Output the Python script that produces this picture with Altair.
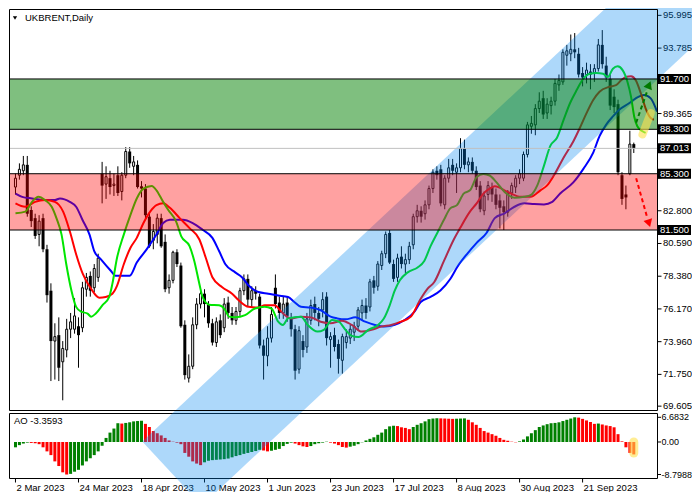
import altair as alt
import pandas as pd

# ---------------- data ----------------
date_labels = ["2 Mar 2023", "24 Mar 2023", "18 Apr 2023", "10 May 2023", "1 Jun 2023",
               "23 Jun 2023", "17 Jul 2023", "8 Aug 2023", "30 Aug 2023", "21 Sep 2023"]
label_step = 16

opens = [84.4, 85.2, 85.5, 85.9, 82.85, 82.3, 81.2, 82.3, 80.2, 77.4,
         74.0, 74.4, 72.6, 73.4, 74.8, 74.8, 75.0, 74.9, 77.5, 78.4,
         77.6, 78.3, 85.3, 84.6, 85.0, 84.5, 85.2, 84.1, 85.2, 86.8,
         85.8, 85.9, 84.45, 84.3, 82.4, 80.8, 81.2, 82.3, 80.7, 77.6,
         78.1, 80.0, 79.1, 75.1, 71.5, 72.3, 75.1, 76.5, 77.2, 76.5,
         75.2, 73.9, 75.4, 74.9, 76.6, 75.9, 75.4, 76.0, 77.4, 78.2,
         76.8, 77.4, 77.0, 73.7, 73.0, 74.2, 77.6, 76.6, 75.9, 76.6,
         75.5, 74.8, 72.1, 74.0, 73.6, 75.4, 76.5, 75.9, 76.1, 77.0,
         74.1, 74.4, 73.8, 72.7, 73.9, 74.2, 74.6, 75.0, 75.9, 76.4,
         76.3, 78.1, 77.7, 79.1, 79.9, 81.3, 79.2, 78.3, 79.7, 79.2,
         79.5, 80.5, 82.4, 82.8, 82.6, 83.2, 84.3, 85.5, 85.6, 83.2,
         85.0, 85.9, 85.4, 85.7, 87.0, 85.9, 86.1, 85.5, 84.5, 82.8,
         83.9, 84.4, 83.9, 83.5, 83.1, 82.7, 84.0, 84.4, 85.0, 85.0,
         86.6, 88.5, 88.6, 89.7, 90.4, 89.4, 89.9, 90.2, 91.3, 91.5,
         93.3, 93.4, 93.7, 93.4, 92.1, 92.0, 92.2, 92.1, 92.4, 94.0,
         92.6, 91.7, 90.5, 90.0, 85.2, 83.9, 85.3, 87.3]
highs = [85.3, 86.0, 86.5, 86.5, 83.1, 82.6, 82.5, 82.6, 80.5, 77.9,
         75.2, 75.6, 74.0, 75.5, 75.9, 76.9, 75.6, 78.0, 78.6, 78.7,
         79.2, 79.9, 86.1, 85.8, 85.5, 85.3, 85.8, 85.4, 87.1, 87.1,
         86.5, 86.2, 84.8, 84.6, 82.7, 81.9, 82.6, 82.6, 81.2, 78.5,
         80.1, 80.2, 79.3, 75.4, 73.1, 75.6, 76.9, 77.5, 77.5, 76.7,
         75.5, 75.6, 75.8, 76.9, 77.0, 76.3, 76.3, 77.6, 78.5, 78.5,
         77.7, 77.7, 77.2, 74.1, 75.0, 76.3, 78.5, 77.0, 77.0, 77.0,
         75.9, 75.1, 75.0, 74.4, 75.9, 76.8, 77.0, 76.3, 77.3, 77.3,
         74.6, 74.9, 74.1, 74.5, 74.8, 75.1, 75.3, 76.3, 76.8, 76.9,
         78.2, 78.4, 79.4, 80.1, 81.4, 81.5, 79.5, 79.9, 80.4, 79.9,
         80.7, 82.6, 83.2, 83.1, 83.5, 84.5, 85.6, 85.8, 85.9, 85.2,
         86.3, 86.3, 86.0, 87.7, 87.6, 86.4, 86.4, 85.8, 84.8, 84.1,
         84.8, 84.7, 84.3, 83.9, 83.5, 84.2, 84.7, 85.2, 85.6, 86.8,
         88.8, 89.2, 90.0, 90.8, 90.9, 90.4, 90.5, 91.7, 92.0, 93.7,
         94.0, 94.7, 94.8, 93.8, 92.5, 92.8, 92.7, 92.7, 94.4, 95.0,
         93.2, 92.0, 91.0, 90.3, 85.4, 84.5, 88.2, 87.4]
lows = [83.9, 84.9, 85.2, 82.4, 81.7, 80.9, 80.4, 80.0, 76.6, 71.3,
        71.4, 71.3, 70.0, 72.9, 74.2, 74.5, 72.2, 74.6, 77.0, 77.0,
        77.3, 78.0, 83.3, 83.6, 83.9, 83.8, 83.8, 83.5, 85.0, 85.7,
        85.2, 84.3, 83.7, 82.3, 80.3, 80.2, 80.6, 80.3, 77.3, 77.2,
        77.9, 79.0, 74.9, 71.4, 71.2, 72.1, 74.8, 76.2, 75.6, 74.9,
        73.7, 73.6, 74.2, 74.6, 75.5, 75.1, 75.1, 75.7, 77.1, 76.3,
        76.3, 76.8, 73.5, 71.4, 72.3, 73.9, 76.2, 75.5, 75.5, 75.3,
        74.3, 71.4, 71.8, 72.9, 73.2, 75.1, 75.4, 75.0, 75.6, 73.7,
        72.2, 73.3, 71.8, 71.8, 73.5, 73.8, 74.0, 74.7, 75.4, 75.5,
        76.0, 77.2, 77.4, 78.8, 79.6, 79.2, 78.0, 78.0, 78.9, 78.6,
        79.2, 80.2, 82.0, 82.0, 82.2, 82.9, 84.0, 84.9, 83.1, 82.9,
        84.7, 85.2, 84.0, 85.4, 85.6, 85.4, 85.3, 84.2, 82.7, 82.5,
        83.5, 83.4, 82.9, 81.6, 81.5, 82.4, 83.6, 84.0, 84.6, 84.8,
        86.4, 88.0, 87.9, 89.4, 89.0, 89.0, 89.3, 89.9, 90.9, 91.3,
        92.6, 92.9, 93.1, 91.8, 91.2, 91.4, 91.0, 91.5, 92.2, 92.4,
        91.5, 89.6, 89.4, 85.2, 83.2, 82.9, 85.2, 86.7]
closes = [85.0, 85.6, 85.9, 82.6, 82.1, 81.1, 82.1, 80.2, 77.1, 74.0,
          74.3, 72.2, 73.5, 74.8, 75.3, 75.7, 74.4, 77.6, 78.3, 77.4,
          78.9, 79.6, 84.5, 85.1, 84.4, 84.6, 84.0, 85.2, 86.8, 86.0,
          86.1, 84.4, 84.3, 82.5, 80.4, 81.4, 82.3, 80.4, 77.5, 78.1,
          80.0, 79.2, 75.0, 71.7, 72.3, 75.1, 76.5, 77.2, 76.5, 75.2,
          73.9, 75.3, 74.4, 76.5, 75.9, 75.4, 76.0, 77.4, 78.2, 76.8,
          77.4, 77.2, 73.7, 73.0, 74.2, 75.8, 76.5, 75.9, 76.5, 75.7,
          74.8, 72.0, 74.7, 73.4, 75.5, 76.4, 75.9, 75.5, 76.8, 74.2,
          74.3, 73.6, 72.8, 74.3, 74.3, 74.8, 75.0, 76.1, 76.4, 75.9,
          78.0, 77.6, 79.2, 79.9, 81.2, 79.3, 78.2, 79.6, 79.2, 79.5,
          80.4, 82.4, 82.8, 82.4, 83.2, 84.3, 85.4, 85.2, 83.3, 85.0,
          85.7, 85.5, 85.7, 87.0, 85.9, 86.1, 85.5, 84.4, 82.9, 83.8,
          84.5, 83.9, 83.2, 83.0, 82.7, 84.0, 84.5, 85.0, 85.3, 86.6,
          88.6, 88.7, 89.7, 90.2, 89.3, 90.0, 90.2, 91.4, 91.6, 93.5,
          93.6, 93.7, 93.5, 92.0, 91.8, 92.3, 92.0, 92.4, 94.0, 92.7,
          91.8, 89.9, 89.8, 85.4, 83.6, 83.7, 87.3, 87.01]

# Alligator lines (bar position, price)
lips_x = [0, 2.5, 4.2, 5.8, 7.5, 9.2, 10.4, 11.7, 12.9, 14.2,
          15.4, 16.7, 18.3, 19.2, 20.4, 22.1, 23.8, 24.6, 25.8, 27.5,
          29.2, 30.8, 32.5, 34.6, 35.8, 37.5, 38.8, 40.8, 42.1, 44.2,
          45.4, 46.7, 47.5, 49.2, 51.7, 53.3, 54.2, 55.8, 58.3, 60.8,
          63.3, 65.0, 66.7, 67.9, 69.2, 72.5, 74.2, 76.7, 78.3, 80.4,
          82.1, 83.8, 85.4, 87.1, 89.6, 92.1, 93.5, 95.0, 96.3, 97.6,
          99.6, 102.1, 103.8, 105.4, 107.1, 108.8, 110.4, 112.1, 113.8, 115.4,
          117.1, 118.8, 120.4, 122.1, 124.2, 126.7, 129.2, 130.8, 132.5, 134.2,
          135.8, 137.5, 139.2, 140.8, 142.5, 144.2, 145.8, 147.5, 149.2, 150.4,
          151.7, 152.9, 154.2, 155.4, 156.3, 157.1, 157.9, 159.2, 160.0]
lips_y = [82.63, 82.74, 83.40, 83.74, 83.52, 83.07, 82.30, 81.19, 79.19, 77.42,
          76.31, 75.98, 75.86, 75.65, 75.86, 76.42, 76.98, 77.86, 79.64, 81.19,
          82.52, 83.63, 84.29, 84.47, 84.18, 83.40, 82.85, 82.07, 81.07, 80.41,
          79.41, 77.86, 76.98, 76.46, 76.42, 76.08, 75.65, 75.60, 75.75, 76.20,
          76.31, 76.20, 75.31, 75.09, 75.53, 75.65, 75.09, 74.64, 74.76, 75.42,
          75.31, 74.76, 74.35, 74.27, 74.76, 75.09, 75.50, 76.40, 77.40, 78.10,
          78.64, 78.97, 79.41, 80.41, 81.30, 82.19, 82.96, 83.18, 83.96, 84.18,
          85.07, 85.29, 85.18, 84.73, 84.07, 83.67, 83.74, 83.85, 84.51, 85.85,
          87.18, 87.73, 88.95, 90.06, 90.95, 91.72, 92.05, 92.10, 92.05, 91.83,
          92.39, 92.55, 92.28, 91.50, 90.50, 89.17, 88.51, 88.17, 88.06]
teeth_x = [0, 2.5, 5.0, 7.5, 10.0, 12.1, 13.8, 15.4, 17.1, 19.2,
           21.3, 22.9, 24.6, 25.8, 27.5, 29.2, 30.8, 32.5, 34.2, 35.8,
           37.5, 39.2, 41.7, 44.2, 46.7, 48.3, 50.0, 52.5, 55.0, 56.7,
           59.2, 61.7, 63.3, 65.8, 67.5, 70.0, 72.5, 75.0, 77.5, 80.0,
           82.9, 85.4, 87.9, 90.4, 92.9, 95.4, 97.9, 100.4, 102.9, 104.6,
           106.3, 108.8, 111.3, 112.9, 115.4, 117.1, 118.8, 120.4, 121.7, 125.0,
           128.3, 130.8, 133.3, 135.0, 136.7, 139.2, 141.7, 143.3, 145.0, 146.7,
           148.3, 150.8, 152.5, 153.8, 155.0, 156.3, 157.5, 158.8, 160.0, 161.3,
           162.1]
teeth_y = [83.30, 83.07, 83.40, 83.52, 83.40, 82.74, 81.41, 79.86, 78.53, 77.53,
           76.93, 76.98, 77.20, 77.75, 79.19, 80.30, 80.97, 81.97, 82.74, 83.18,
           83.30, 83.00, 82.30, 81.63, 80.86, 79.64, 78.31, 77.64, 77.20, 76.75,
           76.31, 76.26, 76.42, 76.42, 75.98, 75.53, 75.65, 75.60, 75.30, 75.20,
           75.38, 75.09, 74.64, 74.76, 74.98, 75.09, 75.31, 75.65, 76.86, 77.53,
           77.97, 79.41, 80.86, 81.63, 82.74, 83.30, 83.96, 84.29, 84.45, 84.07,
           83.74, 83.74, 84.18, 84.51, 85.18, 86.40, 87.51, 88.39, 89.39, 90.28,
           90.84, 91.17, 91.28, 91.61, 91.83, 91.88, 91.61, 90.72, 89.72, 89.06,
           88.95]
jaw_x = [0, 1.7, 4.2, 7.5, 10.0, 11.3, 13.8, 15.4, 17.0, 18.8,
         20.0, 21.7, 24.2, 25.4, 29.0, 30.8, 33.3, 35.8, 37.5, 39.2,
         42.5, 45.0, 47.5, 50.0, 51.7, 53.3, 55.8, 57.5, 59.2, 61.7,
         64.2, 66.7, 69.2, 70.8, 72.5, 75.0, 77.5, 80.0, 81.7, 83.8,
         86.3, 88.8, 91.3, 93.8, 96.3, 98.8, 101.3, 102.9, 105.4, 107.9,
         110.4, 112.1, 114.6, 117.1, 119.6, 121.7, 124.2, 126.7, 129.2, 131.7,
         134.2, 136.3, 138.3, 141.7, 144.2, 146.7, 148.3, 150.0, 151.7, 153.3,
         155.8, 157.5, 159.6, 161.3, 162.9]
jaw_y = [83.96, 83.74, 83.63, 83.52, 83.52, 83.63, 83.40, 83.07, 82.19, 81.19,
         80.08, 79.52, 78.75, 78.41, 78.41, 79.30, 80.19, 81.19, 81.97, 82.19,
         82.19, 81.97, 81.52, 80.97, 80.08, 79.19, 78.64, 78.31, 77.75, 77.31,
         77.20, 77.08, 76.98, 76.64, 76.31, 76.26, 76.08, 75.65, 75.53, 75.47,
         75.60, 75.31, 75.09, 74.98, 75.09, 75.42, 75.98, 76.64, 76.98, 77.42,
         78.19, 78.97, 79.86, 80.63, 81.30, 82.30, 82.63, 83.07, 83.30, 83.25,
         83.23, 83.40, 83.96, 84.73, 85.63, 86.73, 87.84, 88.62, 89.17, 89.62,
         90.06, 90.39, 90.62, 90.39, 89.50]

ao_values = [-1.44, -0.85, -0.42, -0.17, -0.25, -0.34, -0.59, -1.44, -2.54, -3.55,
             -5.25, -6.51, -8.21, -8.80, -8.63, -8.04, -7.53, -6.35, -5.25, -4.40,
             -3.55, -2.54, -1.02, 1.10, 2.54, 3.64, 5.08, 4.99, 5.16, 5.33,
             5.58, 5.67, 5.75, 4.91, 4.06, 2.96, 2.37, 1.78, 1.10, 0.42,
             0.08, -0.17, -0.59, -2.96, -3.98, -5.25, -5.84, -6.26, -5.50, -5.08,
             -4.91, -4.82, -4.74, -4.65, -4.48, -4.15, -3.81, -3.55, -3.21, -2.96,
             -2.71, -2.45, -2.12, -2.28, -2.54, -2.37, -2.12, -1.86, -1.10, -0.51,
             -0.17, -0.42, -0.85, -1.18, -1.35, -1.10, -0.59, -0.34, -0.17, 0.08,
             -0.17, -0.42, -0.85, -1.35, -1.52, -1.27, -1.02, -0.59, -0.08, 0.42,
             0.85, 1.27, 1.95, 2.54, 3.47, 4.23, 4.40, 4.31, 3.98, 3.81,
             3.47, 4.06, 4.65, 5.08, 5.58, 6.18, 6.35, 6.43, 6.39, 6.35,
             6.30, 6.26, 6.30, 6.35, 6.39, 6.01, 5.33, 4.65, 3.81, 2.96,
             2.54, 2.12, 1.69, 1.10, 0.59, 0.34, 0.08, -0.08, 0.17, 0.68,
             1.52, 2.37, 3.21, 4.06, 4.48, 4.82, 5.08, 5.16, 5.33, 5.67,
             6.01, 6.35, 6.68, 6.60, 6.26, 5.84, 5.41, 4.91, 4.99, 4.74,
             4.48, 4.31, 3.98, 2.12, 0.17, -1.44, -2.96, -3.36]
ao_updown = "".join(["gggg", "rrrrrrrrrr", "ggggggggggggg", "r", "ggggg",
                     "rrrrrrrrrrrrrrr", "ggggggggggggggg", "rr", "gggggg", "rrrr",
                     "ggggg", "rrrrr", "gggggggggggg", "rrrr", "ggggggg", "rrrr",
                     "ggg", "rrrrrrrrrrrrr", "ggggggggggggggg", "rrrrr", "g", "rrrrrrrrr"])
ao_last = -3.3593

price_ticks = [95.995, 93.785, 91.575, 89.365, 87.155, 85.010, 82.800, 80.590,
               78.380, 76.170, 73.960, 71.750, 69.605]
covered_ticks = [91.575, 87.155, 85.010]   # hidden behind the level boxes
ao_ticks = [6.6832, 0.0, -8.7988]
ao_tick_labels = ["6.6832", "0.00", "-8.7988"]
level_lines = [91.700, 88.300, 85.300, 81.500]
box_levels = [91.700, 88.300, 87.013, 85.300, 81.500]
last_price = 87.013
zone_lo = [88.300, 81.500]
zone_hi = [91.700, 85.300]

channel_i = [32.2, 47.3, 190.0]
channel_upper = [67.22, 70.98, 106.46]
channel_lower = [67.22, 62.89, 98.38]

g_arrow_i, g_arrow_p = [157.6, 160.5], [88.75, 90.95]
g_head_i, g_head_p = [160.9], [91.3]
r_arrow_i, r_arrow_p = [157.6, 160.4], [85.0, 82.35]
r_head_i, r_head_p = [160.85], [81.95]
hl_i, hl_p = [159.2, 161.3], [87.95, 89.4]
ao_hl_i, ao_hl_v = [157.0, 157.0], [0.0, -3.0]

# ---------------- layout / styles ----------------
FONT = "Liberation Sans"
FS = 9.5
W, H = 648, 469
MAIN_H = 401
AO_TOP, AO_BOT = 404, 469
X_MIN, X_MAX = -0.375, 161.625
P_MIN, P_MAX = 69.345, 96.424
AO_MIN, AO_MAX = -9.746, 7.847

xs = alt.Scale(domain=[X_MIN, X_MAX], nice=False, zero=False)
ys = alt.Scale(domain=[P_MIN, P_MAX], range=[MAIN_H, 0], nice=False, zero=False)
ya = alt.Scale(domain=[AO_MIN, AO_MAX], range=[AO_BOT, AO_TOP], nice=False, zero=False)


def X(field="i"):
    return alt.X(f"{field}:Q", scale=xs, axis=None)


def YP(field):
    return alt.Y(f"{field}:Q", scale=ys, axis=None)


def YA(field):
    return alt.Y(f"{field}:Q", scale=ya, axis=None)


one = pd.DataFrame({"a": [0]})

# ---------------- AO panel (+ date axis) ----------------
ao_df = pd.DataFrame({"i": list(range(len(ao_values))), "v": ao_values,
                      "col": ["#008000" if c == "g" else "#ff0000" for c in ao_updown],
                      "z": [0.0] * len(ao_values)})
ao_bars = alt.Chart(ao_df).mark_bar(size=3).encode(
    x=X(), y=YA("v"), y2="z:Q", color=alt.Color("col:N", scale=None))
ao_hl = alt.Chart(pd.DataFrame({"i": ao_hl_i, "v": ao_hl_v})).mark_line(
    color="#ffe14d", opacity=0.6, strokeWidth=9, strokeCap="round").encode(x=X(), y=YA("v"))
ao_frame = alt.Chart(one).mark_rect(filled=False, color="black", strokeWidth=1).encode(
    x=alt.value(0.5), x2=alt.value(W + 0.5), y=alt.value(AO_TOP + 0.5), y2=alt.value(AO_BOT + 0.5))
ao_text = alt.Chart(pd.DataFrame({"t": [f"AO {ao_last}"]})).mark_text(
    align="left", baseline="middle", font=FONT, fontSize=FS, color="black").encode(
    x=alt.value(5), y=alt.value(411.5), text="t:N")

aot_df = pd.DataFrame({"v": ao_ticks, "t": ao_tick_labels})
ao_tick_marks = alt.Chart(aot_df).mark_rule(color="black", strokeWidth=1).encode(
    x=alt.value(W + 0.5), x2=alt.value(W + 4), y=YA("v"))
ao_tick_text = alt.Chart(aot_df).mark_text(
    align="left", baseline="middle", font=FONT, fontSize=9, color="black").encode(
    x=alt.value(W + 4.5), y=YA("v"), text="t:N")

xt_df = pd.DataFrame({"i": [k * label_step for k in range(len(date_labels))], "t": date_labels})
x_tick_marks = alt.Chart(xt_df).mark_rule(color="black", strokeWidth=1).encode(
    x=X(), y=alt.value(AO_BOT + 0.5), y2=alt.value(AO_BOT + 4.5))
x_tick_text = alt.Chart(xt_df).mark_text(
    align="left", baseline="top", font=FONT, fontSize=FS, color="black", dx=1).encode(
    x=X(), y=alt.value(AO_BOT + 5), text="t:N")

ao_group = alt.layer(ao_tick_marks, ao_tick_text, x_tick_marks, x_tick_text,
                     ao_bars, ao_hl, ao_frame, ao_text)

# ---------------- main panel ----------------
cdf = pd.DataFrame({"i": list(range(len(opens))), "o": opens, "h": highs, "l": lows, "c": closes})
bull = cdf[cdf.c >= cdf.o]
bear = cdf[cdf.c < cdf.o]

pt_df = pd.DataFrame({"p": price_ticks})
pt_vis = pt_df[~pt_df.p.isin(covered_ticks)]
p_tick_marks = alt.Chart(pt_df).mark_rule(color="black", strokeWidth=1).encode(
    x=alt.value(W + 0.5), x2=alt.value(W + 4.5), y=YP("p"))
p_tick_text = alt.Chart(pt_vis).mark_text(
    align="left", baseline="middle", font=FONT, fontSize=FS, color="black").encode(
    x=alt.value(W + 6), y=YP("p"), text=alt.Text("p:Q", format=".3f"))

wicks = alt.Chart(cdf).mark_rule(color="black", strokeWidth=1).encode(
    x=X(), y=YP("l"), y2="h:Q")
bull_b = alt.Chart(bull).mark_bar(size=2, fill="white", stroke="black", strokeWidth=1).encode(
    x=X(), y=YP("o"), y2="c:Q")
bear_b = alt.Chart(bear).mark_bar(size=3, color="black").encode(
    x=X(), y=YP("o"), y2="c:Q")


def ma(xv, yv, color):
    return alt.Chart(pd.DataFrame({"i": xv, "v": yv})).mark_line(
        color=color, strokeWidth=2, interpolate="monotone", clip=True).encode(x=X(), y=YP("v"))


jaw = ma(jaw_x, jaw_y, "#0000ff")
teeth = ma(teeth_x, teeth_y, "#ff0000")
lips = ma(lips_x, lips_y, "#00e600")

channel = alt.Chart(pd.DataFrame({"i": channel_i, "u": channel_upper, "lo": channel_lower})).mark_area(
    color="#0086f0", opacity=0.32).encode(x=X(), y=YP("u"), y2="lo:Q")

zones = alt.Chart(pd.DataFrame({"lo": zone_lo, "hi": zone_hi, "col": ["#008000", "#ff0000"],
                                "op": [0.5, 0.37]})).mark_rect().encode(
    x=alt.value(0), x2=alt.value(W), y=YP("lo"), y2="hi:Q",
    color=alt.Color("col:N", scale=None), opacity=alt.Opacity("op:Q", scale=None))
lvl = alt.Chart(pd.DataFrame({"p": level_lines})).mark_rule(color="black", strokeWidth=1).encode(
    x=alt.value(0), x2=alt.value(W), y=YP("p"))
pline = alt.Chart(pd.DataFrame({"p": [last_price]})).mark_rule(color="#c0c0c0", strokeWidth=1).encode(
    x=alt.value(0), x2=alt.value(W), y=YP("p"))

hl = alt.Chart(pd.DataFrame({"i": hl_i, "v": hl_p})).mark_line(
    color="#ffe14d", opacity=0.6, strokeWidth=8, strokeCap="round").encode(x=X(), y=YP("v"))
g_line = alt.Chart(pd.DataFrame({"i": g_arrow_i, "v": g_arrow_p})).mark_line(
    color="#007a00", strokeWidth=2, strokeDash=[4, 3]).encode(x=X(), y=YP("v"))
g_head = alt.Chart(pd.DataFrame({"i": g_head_i, "v": g_head_p})).mark_point(
    shape="triangle-up", filled=True, size=80, angle=22, color="#007a00", opacity=1).encode(x=X(), y=YP("v"))
r_line = alt.Chart(pd.DataFrame({"i": r_arrow_i, "v": r_arrow_p})).mark_line(
    color="#ff0000", strokeWidth=2, strokeDash=[4, 3]).encode(x=X(), y=YP("v"))
r_head = alt.Chart(pd.DataFrame({"i": r_head_i, "v": r_head_p})).mark_point(
    shape="triangle-up", filled=True, size=80, angle=163, color="#ff0000", opacity=1).encode(x=X(), y=YP("v"))

main_frame = alt.Chart(one).mark_rect(filled=False, color="black", strokeWidth=1).encode(
    x=alt.value(0.5), x2=alt.value(W + 0.5), y=alt.value(0.5), y2=alt.value(MAIN_H + 0.5))

bdf = pd.DataFrame({"p": box_levels})
boxes = alt.Chart(bdf).mark_rule(color="black", strokeWidth=10, strokeCap="butt").encode(
    x=alt.value(W + 1), x2=alt.value(W + 34), y=YP("p"))
box_txt = alt.Chart(bdf).mark_text(align="left", baseline="middle", font=FONT, fontSize=FS,
                                   color="white").encode(
    x=alt.value(W + 3), y=YP("p"), text=alt.Text("p:Q", format=".3f"))

tri = alt.Chart(one).mark_point(shape="triangle-down", filled=True, size=18, color="black",
                                opacity=1).encode(x=alt.value(6), y=alt.value(9))
title = alt.Chart(pd.DataFrame({"t": ["UKBRENT,Daily"]})).mark_text(
    align="left", baseline="middle", font=FONT, fontSize=FS, color="black").encode(
    x=alt.value(16), y=alt.value(9), text="t:N")

main_group = alt.layer(p_tick_marks, p_tick_text, wicks, bull_b, bear_b, jaw, teeth, lips,
                       channel, zones, lvl, pline, hl, g_line, g_head, r_line, r_head,
                       main_frame, boxes, box_txt, tri, title)

chart = alt.layer(ao_group, main_group).resolve_scale(y="independent").properties(
    width=W, height=H,
    autosize=alt.AutoSizeParams(type="none"),
    padding={"left": 1, "top": 1, "right": 35, "bottom": 14},
    background="white",
).configure_view(strokeWidth=0)

chart.save("out.html", embed_options={"renderer": "svg", "actions": False})
